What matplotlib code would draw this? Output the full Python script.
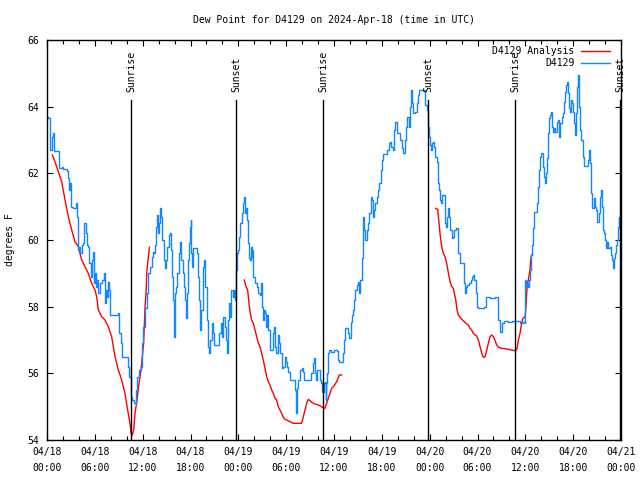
import numpy as np
import pandas as pd
import matplotlib
matplotlib.use("Agg")
import matplotlib.pyplot as plt
import matplotlib.dates as mdates
from matplotlib.ticker import MultipleLocator

plt.rcParams['font.family'] = ['DejaVu Sans Mono']
plt.rcParams['font.size'] = 7

start = pd.Timestamp("2024-04-18 00:00")
title = "Dew Point for D4129 on 2024-Apr-18 (time in UTC)"
ylabel = "degrees F"
series_names = ["D4129 Analysis", "D4129"]

# Observation series D4129 (hours since 04/18 00:00 UTC, deg F)
obs_hours = [
    0.02, 0.17, 0.38, 0.59, 0.71, 0.88, 0.92, 1.42, 1.5, 1.84, 2.05, 2.47, 2.59, 2.76, 2.9, 3.01, 3.3, 3.6, 3.76,
    3.85, 4.01, 4.14, 4.35, 4.56, 4.68, 4.85, 4.98, 5.18, 5.31, 5.48, 5.64, 5.81, 5.94, 6.06, 6.19, 6.31,
    6.44, 6.65, 6.86, 7.11, 7.27, 7.4, 7.53, 7.69, 7.82, 7.94, 8.53, 8.86, 9.03, 9.28, 9.45, 9.99, 10.12,
    10.33, 10.54, 10.7, 10.95, 11.12, 11.29, 11.54, 11.79, 11.96,
    12.09, 12.3, 12.51, 12.72, 12.92, 13.13, 13.26, 13.43, 13.55, 13.68, 13.76, 13.89, 14.01, 14.18, 14.3,
    14.47, 14.68, 14.81, 14.93, 15.1, 15.27, 15.43, 15.6, 15.73, 15.85, 15.93, 16.02, 16.19, 16.35, 16.52,
    16.69, 16.85, 17.02, 17.19, 17.36, 17.48, 17.61, 17.73, 17.86, 17.94, 18.02, 18.11, 18.23, 18.36, 18.57,
    18.78, 18.99, 19.11, 19.24, 19.36, 19.53, 19.7, 19.82, 20.03, 20.2, 20.32, 20.45, 20.66, 20.78, 20.95,
    21.2, 21.45, 21.62, 21.79, 21.91, 22.12, 22.29, 22.46, 22.54, 22.67, 22.79, 22.96, 23.12, 23.29, 23.46,
    23.63, 23.67, 23.79, 23.92,
    24.08, 24.25, 24.42, 24.58, 24.71, 24.83, 24.96, 25.08, 25.17, 25.34, 25.46, 25.59, 25.67, 25.75, 25.88,
    26.09, 26.3, 26.51, 26.67, 26.84, 26.92, 27.05, 27.18, 27.34, 27.47, 27.59, 27.76, 27.93, 28.18, 28.35,
    28.47, 28.6, 28.76, 28.93, 29.06, 29.22, 29.43, 29.64, 29.85, 29.98, 30.14, 30.27, 30.48, 30.77, 31.02,
    31.15, 31.27, 31.4, 31.52, 31.73, 31.94, 32.15, 32.28, 32.57, 32.86, 33.11, 33.32, 33.45, 33.61, 33.78,
    33.91, 34.03, 34.16, 34.28, 34.37, 34.53, 34.7, 34.83, 34.95, 35.03, 35.16, 35.29, 35.41, 35.62, 35.83, 36.0,
    36.13, 36.34, 36.55, 36.67, 36.96, 37.17, 37.3, 37.42, 37.59, 37.8, 37.92, 38.09, 38.26, 38.43, 38.55,
    38.68, 38.84, 39.01, 39.18, 39.3, 39.47, 39.6, 39.68, 39.81, 39.93, 40.1, 40.27, 40.43, 40.6, 40.73,
    40.85, 41.02, 41.19, 41.35, 41.52, 41.69, 41.85, 42.02, 42.19, 42.52, 42.69, 42.86, 43.03, 43.19, 43.36,
    43.53, 43.69, 43.86, 44.07, 44.28, 44.49, 44.7, 44.86, 45.03, 45.2, 45.37, 45.53, 45.7, 45.83, 45.95,
    46.16, 46.37, 46.58, 46.7, 47.0, 47.21, 47.37,
    47.42, 47.63, 47.75, 47.84, 47.92, 48.05, 48.17, 48.26, 48.38, 48.51, 48.67, 48.88, 49.01, 49.18, 49.34,
    49.47, 49.59, 49.76, 49.93, 50.05, 50.18, 50.35, 50.47, 50.6, 50.76, 50.93, 51.1, 51.27, 51.43, 51.6,
    51.77, 52.02, 52.23, 52.35, 52.48, 52.6, 52.73, 52.94, 53.19, 53.36, 53.48, 53.61, 53.77, 53.94, 54.11,
    54.44, 54.69, 54.86, 55.03, 55.36, 55.61, 55.78, 55.99, 56.2, 56.45, 56.62, 56.78, 56.95, 57.12, 57.29,
    57.54, 57.87, 58.29, 58.71, 59.13,
    59.33, 59.66, 59.96, 60.0, 60.08, 60.17, 60.33, 60.5, 60.58, 60.71, 60.83, 61.0, 61.13, 61.34, 61.5,
    61.63, 61.75, 61.88, 62.01, 62.13, 62.26, 62.38, 62.51, 62.63, 62.76, 62.88, 63.01, 63.13, 63.26, 63.38,
    63.51, 63.64, 63.76, 63.93, 64.1, 64.26, 64.39, 64.56, 64.76, 64.89, 65.02, 65.14, 65.22, 65.31, 65.43,
    65.6, 65.73, 65.85, 66.02, 66.14, 66.27, 66.39, 66.52, 66.6, 66.73, 66.86, 67.02, 67.19, 67.36, 67.52,
    67.69, 67.82, 67.94, 68.07, 68.19, 68.32, 68.49, 68.61, 68.74, 68.86, 68.99, 69.11, 69.24, 69.36, 69.49,
    69.61, 69.74, 69.87, 70.03, 70.16, 70.28, 70.41, 70.53, 70.62, 70.74, 70.87, 71.0, 71.12, 71.25, 71.37,
    71.5, 71.62, 71.71, 71.79, 71.87,
]
obs_values = [
    63.7, 63.65, 62.7, 63.1, 63.2, 63.0, 62.67, 62.67, 62.15, 62.2, 62.12, 62.08, 61.85, 61.5, 61.7, 61.0, 60.95, 61.1, 60.7,
    59.7, 59.8, 59.6, 59.85, 59.9, 60.5, 60.2, 59.85, 59.8, 59.3, 58.9, 59.4, 59.65, 58.7, 59.0, 58.6, 58.8,
    58.4, 58.7, 58.8, 59.0, 58.1, 58.5, 58.3, 58.75, 58.5, 57.75, 57.75, 57.8, 57.2, 56.9, 56.5, 56.5, 56.2,
    55.9, 55.3, 55.2, 55.1, 55.5, 55.9, 56.1, 56.2, 56.9,
    57.4, 57.95, 58.4, 59.0, 59.2, 59.5, 59.65, 59.6, 59.85, 60.4, 60.75, 60.2, 60.5, 60.95, 60.7,
    60.0, 59.4, 59.15, 59.4, 59.8, 60.15, 60.2, 59.7, 58.9, 58.2, 57.1, 58.4, 58.6, 59.0, 59.6,
    59.95, 59.4, 59.0, 58.6, 58.2, 57.65, 58.4, 59.4, 59.9, 60.4, 60.6, 59.6, 59.2, 59.75, 59.75,
    59.6, 58.9, 58.2, 57.3, 57.9, 59.2, 59.4, 58.6, 57.6, 56.8, 56.6, 57.0, 57.5, 57.2, 56.85,
    56.85, 56.85, 57.2, 57.5, 57.1, 57.7, 57.4, 57.0, 56.6, 57.6, 58.1, 57.7, 58.5, 58.3, 58.5,
    58.2, 59.1, 59.6, 59.7,
    60.1, 60.5, 60.8, 61.1, 61.3, 60.8, 60.95, 60.6, 59.9, 59.45, 59.4, 59.8, 59.5, 59.7, 58.9,
    58.7, 58.6, 58.4, 58.35, 58.7, 58.0, 57.6, 57.9, 57.8, 57.4, 57.75, 57.3, 56.7, 56.7, 57.2,
    57.4, 56.8, 56.6, 57.15, 56.9, 56.6, 56.15, 56.2, 56.5, 56.35, 56.2, 56.05, 55.8, 55.8, 55.8,
    55.5, 54.8, 55.55, 55.8, 56.1, 56.15, 56.05, 55.8, 55.8, 55.8, 56.0, 56.3, 56.45, 56.0, 55.8,
    56.1, 56.1, 56.1, 55.8, 55.7, 55.45, 55.7, 55.75, 55.2, 55.7, 56.0, 56.6, 56.7, 56.65, 56.65, 56.7,
    56.7, 56.68, 56.4, 56.35, 56.35, 56.6, 57.0, 57.35, 57.35, 57.2, 57.05, 57.55, 57.75, 57.9, 58.2,
    58.5, 58.65, 58.75, 58.4, 58.8, 59.45, 60.2, 60.7, 60.3, 60.0, 60.3, 60.5, 60.8, 61.3, 61.2,
    60.7, 60.9, 61.1, 61.3, 61.5, 61.7, 62.1, 62.4, 62.57, 62.57, 62.7, 62.9, 62.95, 62.8, 62.7,
    63.3, 63.55, 63.2, 63.2, 63.0, 62.75, 62.6, 63.0, 63.4, 63.7, 63.4, 64.0, 64.5, 64.1, 63.8,
    63.85, 64.1, 64.35, 64.5, 64.5, 64.5, 64.1,
    64.05, 63.9, 63.75, 63.4, 63.1, 62.85, 62.7, 62.9, 62.95, 62.8, 62.5, 62.35, 61.7, 61.5, 61.2,
    61.1, 61.35, 61.35, 60.5, 60.4, 60.7, 60.95, 60.7, 60.3, 60.05, 60.1, 60.3, 60.35, 60.35, 59.6,
    59.3, 59.3, 59.3, 58.7, 58.4, 58.6, 58.65, 58.7, 58.8, 58.9, 58.95, 58.8, 58.4, 58.0, 57.95,
    57.95, 57.95, 58.0, 58.28, 58.28, 58.25, 58.25, 58.25, 58.28, 58.28, 57.6, 57.25, 57.25, 57.5, 57.58,
    57.58, 57.55, 57.58, 57.58, 57.58,
    57.5, 57.55, 57.5, 58.8, 58.6, 58.7, 58.6, 58.8, 59.1, 59.55, 59.85, 60.35, 60.85, 60.85, 61.1,
    61.6, 62.1, 62.5, 62.6, 62.6, 62.2, 61.9, 61.7, 62.0, 62.45, 63.2, 63.65, 63.75, 63.85, 63.4,
    63.25, 63.35, 63.25, 63.55, 63.6, 63.1, 63.5, 63.7, 63.8, 64.15, 64.45, 64.65, 64.75, 64.4, 63.95,
    63.85, 64.2, 64.1, 63.85, 63.5, 63.15, 63.8, 64.6, 64.95, 64.0, 63.3, 63.0, 62.5, 62.22, 62.22,
    62.22, 62.4, 62.7, 62.3, 61.4, 60.95, 60.95, 61.25, 61.0, 60.9, 60.55, 60.55, 60.8, 61.3, 61.5,
    61.0, 60.3, 60.2, 60.0, 59.75, 59.95, 59.75, 59.75, 59.8, 59.55, 59.4, 59.15, 59.45, 59.6, 59.85,
    60.0, 60.4, 60.7, 60.5, 60.3,
]

# Analysis series D4129 Analysis (NaN separates the three runs)
ana_hours = [
    0.67, 1.0, 1.42, 1.84, 2.26, 2.68, 3.1, 3.51, 3.93, 4.35, 4.77, 5.18, 5.6, 6.02, 6.23, 6.44, 6.86, 7.27,
    7.69, 8.11, 8.53, 8.95, 9.37, 9.78, 10.12, 10.41, 10.54, 10.7, 10.87, 11.04, 11.29, 11.54, 11.79, 11.96,
    12.12, 12.3, 12.42, 12.51, 12.67, 12.84,
    18.0,
    24.75, 24.96, 25.17, 25.34, 25.5, 25.67, 25.88, 26.09, 26.3, 26.51, 26.72, 26.92, 27.13, 27.34, 27.55,
    27.76, 27.97, 28.18, 28.39, 28.6, 28.81, 29.01, 29.22, 29.43, 29.64, 29.85, 30.06, 30.48, 30.9, 31.52,
    31.94, 32.15, 32.36, 32.57, 32.78, 32.99, 33.2, 33.61, 34.03, 34.45, 34.7, 34.87, 35.08, 35.29, 35.49,
    35.7, 35.92, 36.34, 36.67, 36.96,
    42.0,
    48.76, 49.01, 49.09, 49.22, 49.34, 49.51, 49.72, 49.93, 50.14, 50.35, 50.56, 50.76, 50.97, 51.1, 51.27,
    51.43, 51.6, 51.81, 52.02, 52.23, 52.44, 52.65, 52.85, 53.06, 53.27, 53.48, 53.69, 53.9, 54.11, 54.32,
    54.53, 54.74, 54.95, 55.15, 55.36, 55.57, 55.78, 55.99, 56.2, 56.41, 56.62, 57.04, 57.45, 57.87, 58.29,
    58.62, 58.79, 58.96, 59.13, 59.33, 59.54, 59.71, 59.96, 60.08, 60.17, 60.26, 60.38, 60.5, 60.58, 60.67,
    60.79, 60.88,
]
ana_values = [
    62.55, 62.35, 62.05, 61.75, 61.2, 60.7, 60.3, 59.95, 59.8, 59.4, 59.2, 59.0, 58.7, 58.5, 58.3, 57.9, 57.7, 57.6,
    57.4, 57.1, 56.5, 56.1, 55.8, 55.4, 54.9, 54.5, 54.2, 54.15, 54.3, 54.8, 55.2, 55.7, 56.1, 56.5,
    56.9, 58.0, 58.4, 59.0, 59.4, 59.78,
    np.nan,
    58.8, 58.6, 58.5, 58.1, 57.8, 57.6, 57.5, 57.3, 57.1, 56.9, 56.8, 56.6, 56.4, 56.15, 55.9,
    55.75, 55.65, 55.5, 55.4, 55.25, 55.2, 55.0, 54.9, 54.8, 54.68, 54.62, 54.6, 54.55, 54.5, 54.5,
    54.5, 54.7, 54.9, 55.1, 55.22, 55.18, 55.13, 55.08, 55.05, 55.0, 54.95, 54.95, 55.1, 55.25, 55.4,
    55.55, 55.6, 55.75, 55.95, 55.95,
    np.nan,
    60.95, 60.92, 60.7, 60.4, 60.1, 59.8, 59.6, 59.5, 59.3, 59.0, 58.75, 58.6, 58.55, 58.4, 58.2,
    57.9, 57.75, 57.68, 57.62, 57.58, 57.52, 57.48, 57.45, 57.35, 57.3, 57.2, 57.15, 57.12, 57.0, 56.8,
    56.6, 56.48, 56.5, 56.7, 56.9, 57.1, 57.15, 57.1, 56.98, 56.85, 56.78, 56.75, 56.74, 56.72, 56.7,
    56.68, 56.68, 56.75, 57.0, 57.2, 57.5, 57.65, 57.7, 58.0, 58.4, 58.7, 58.8, 59.0, 59.1, 59.4,
    59.55, 59.55,
]

# Sunrise / sunset markers (hours since start)
sun_hours = [10.55, 23.75, 34.65, 47.8, 58.72, 71.9]
sun_labels = ["Sunrise", "Sunset", "Sunrise", "Sunset", "Sunrise", "Sunset"]

def to_time(h):
    return start + pd.to_timedelta(np.asarray(h, dtype=float), unit="h")

fig = plt.figure(figsize=(6.4, 4.8), dpi=100)
ax = fig.add_axes([47 / 640, 40 / 480, 574 / 640, 400 / 480])

ax.plot(to_time(ana_hours), ana_values, color="#ff0000", lw=1.0, label=series_names[0])
ax.plot(to_time(obs_hours), obs_values, color="#1188ff", lw=1.0, drawstyle="steps-post", label=series_names[1])

trans = ax.get_xaxis_transform()
for h, lab in zip(sun_hours, sun_labels):
    t = to_time([h])[0]
    ax.axvline(t, ymin=0, ymax=0.85, color="black", lw=1.0)
    ax.text(t, 0.87, lab, rotation=90, ha="center", va="bottom", transform=trans, fontsize=7)

ax.set_xlim(start, start + pd.Timedelta(hours=72))
ax.set_ylim(54, 66)
ax.yaxis.set_major_locator(MultipleLocator(2))
ax.xaxis.set_major_locator(mdates.HourLocator(byhour=range(0, 24, 6)))
ax.xaxis.set_minor_locator(mdates.HourLocator(byhour=range(0, 24, 2)))
ax.xaxis.set_major_formatter(mdates.DateFormatter("%m/%d\n%H:%M"))
for lbl in ax.get_xticklabels():
    lbl.set_linespacing(1.7)

ax.tick_params(which="both", direction="in", top=True, right=True, width=0.8)
ax.tick_params(which="major", length=4)
ax.tick_params(which="minor", length=3)
ax.tick_params(axis="x", pad=5)
ax.tick_params(axis="y", pad=6)
for s in ax.spines.values():
    s.set_linewidth(1.0)

ax.set_title(title, fontsize=7, pad=12)
fig.text(10 / 640, 0.5, ylabel, rotation=90, ha="center", va="center", fontsize=7)

leg = ax.legend(loc="upper right", bbox_to_anchor=(0.98, 0.985), markerfirst=False, frameon=False,
                handlelength=2.9, handletextpad=0.7, labelspacing=0.25, borderpad=0, borderaxespad=0)

fig.savefig("out.png", dpi=100)
